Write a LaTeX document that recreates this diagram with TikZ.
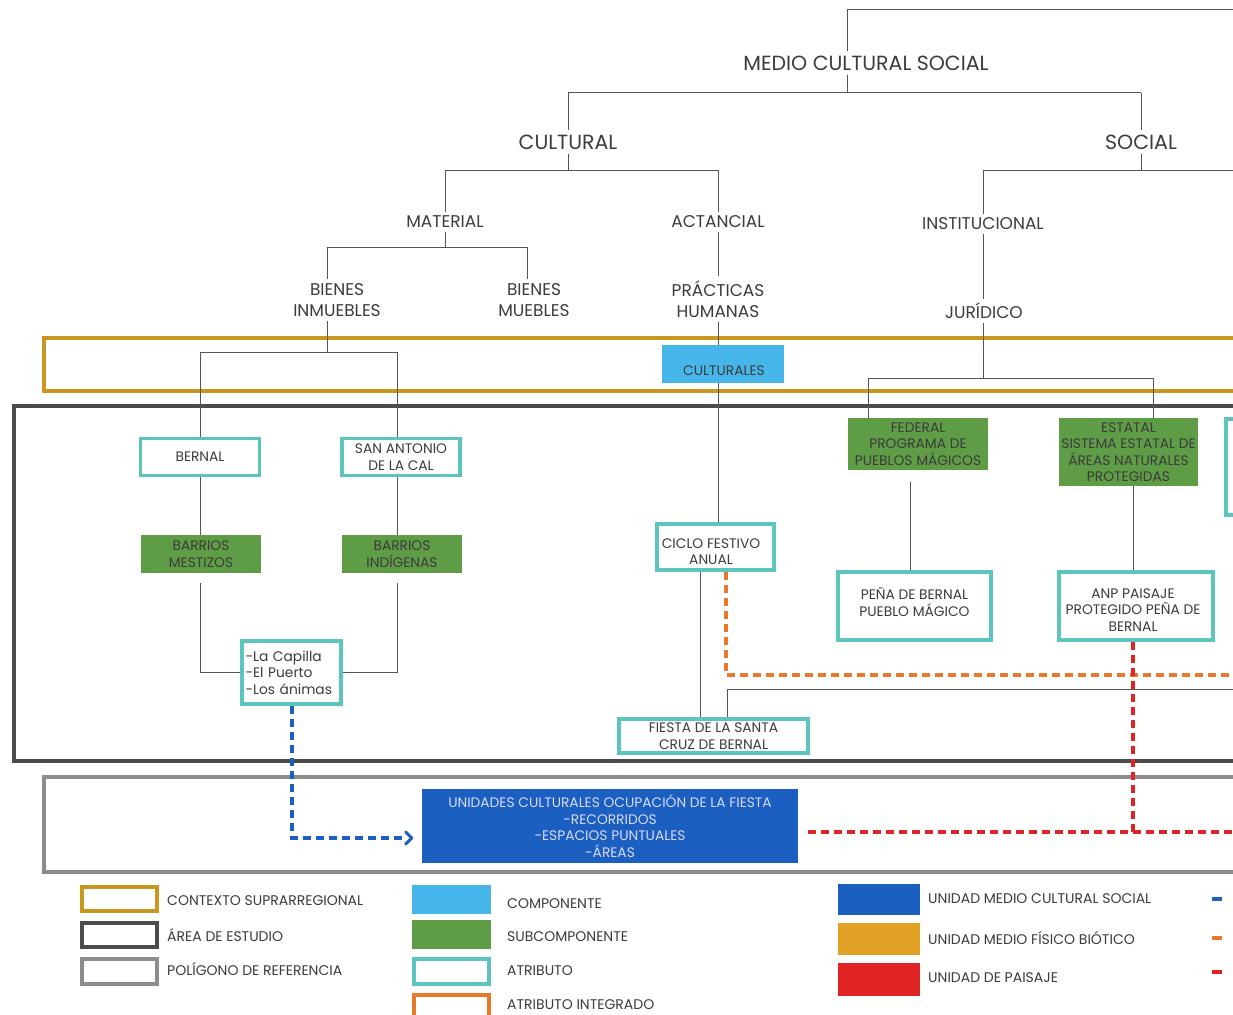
\documentclass[tikz,border=0pt]{standalone}
\usepackage{fontspec}
\setmainfont{Poppins}
\usetikzlibrary{arrows.meta}
\definecolor{txt}{HTML}{3C3C3C}
\definecolor{tealc}{HTML}{5CC6BE}
\definecolor{goldc}{HTML}{C9961F}
\definecolor{darkc}{HTML}{4B4B4B}
\definecolor{grayc}{HTML}{8C8C8C}
\definecolor{bluef}{HTML}{1B5FC1}
\definecolor{lblue}{HTML}{45B5EA}
\definecolor{greenc}{HTML}{5E9C45}
\definecolor{orangec}{HTML}{E8782A}
\definecolor{redc}{HTML}{E02424}
\definecolor{goldf}{HTML}{E2A226}
\definecolor{treec}{HTML}{555555}
\tikzset{
  big/.style={text=txt, font=\fontsize{20.5}{23}\selectfont, inner sep=0pt},
  mid/.style={text=txt, font=\fontsize{17}{21}\selectfont, inner sep=0pt, align=center},
  boxtxt/.style={font=\fontsize{13.8}{16.5}\selectfont, text=txt, align=center, inner sep=0pt},
  attrbox/.style={boxtxt, draw=tealc, line width=3.5pt, fill=white, rectangle},
  subbox/.style={boxtxt, fill=greenc, text=txt, rectangle},
  compbox/.style={boxtxt, fill=lblue, rectangle},
  tree/.style={draw=treec, line width=1pt},
  frame/.style={line width=4pt},
  odash/.style={draw=orangec, line width=3.5pt, dash pattern=on 8pt off 5pt},
  rdash/.style={draw=redc, line width=3.5pt, dash pattern=on 8pt off 5pt},
  bdash/.style={draw=bluef, line width=3.5pt, dash pattern=on 8pt off 5pt},
  legtxt/.style={text=txt, font=\fontsize{14}{16}\selectfont, inner sep=0pt, anchor=west},
}
\begin{document}
\begin{tikzpicture}[x=1pt,y=-1pt]
\useasboundingbox (0,0) rectangle (1233,1014);
\clip (0,0) rectangle (1233,1014);
\fill[white] (0,0) rectangle (1233,1014);

% frames
\draw[frame, goldc] (44,338) rectangle (1250,391);
\draw[frame, darkc, line width=4.5pt] (14,406) rectangle (1250,761);
\draw[frame, grayc] (44,777) rectangle (1250,872);

% tree labels
\node[big] (mcs) at (866,63) {MEDIO CULTURAL SOCIAL};
\node[big] (cult) at (568,142) {CULTURAL};
\node[big] (soc) at (1141,142) {SOCIAL};
\node[mid] (mat) at (445,222) {MATERIAL};
\node[mid] (act) at (718,222) {ACTANCIAL};
\node[mid] (ins) at (983,224) {INSTITUCIONAL};
\node[mid] (inm) at (337,300) {BIENES\\INMUEBLES};
\node[mid] (mue) at (534,300) {BIENES\\MUEBLES};
\node[mid] (prac) at (718,299) {PRÁCTICAS\\HUMANAS};
\node[mid] (jur) at (984,311) {JURÍDICO};

% junction coordinates
\coordinate (topC) at (847,10);
\coordinate (topR) at (1240,10);
\coordinate (j0) at (847,93);
\coordinate (j0l) at (568,93);
\coordinate (j0r) at (1141,93);
\coordinate (j1) at (568,170);
\coordinate (j1l) at (445,170);
\coordinate (j1r) at (718,170);
\coordinate (j2) at (1141,170);
\coordinate (j2l) at (983,170);
\coordinate (j2r) at (1240,170);
\coordinate (j3) at (445,247);
\coordinate (j3l) at (327,247);
\coordinate (j3r) at (527,247);
\coordinate (j4) at (327,352);
\coordinate (j4l) at (200,352);
\coordinate (j4r) at (397,352);
\coordinate (j5) at (983,378);
\coordinate (j5l) at (868,378);
\coordinate (j5r) at (1153,378);
\coordinate (xa) at (718,0);

% boxes
\node[attrbox, minimum width=119pt, minimum height=37pt] (ber) at (200,457) {BERNAL};
\node[attrbox, minimum width=118pt, minimum height=37pt] (san) at (401,457) {SAN ANTONIO\\DE LA CAL};
\node[subbox, minimum width=120pt, minimum height=38pt] (mes) at (201,554) {BARRIOS\\MESTIZOS};
\node[subbox, minimum width=120pt, minimum height=38pt] (ind) at (402,554) {BARRIOS\\INDÍGENAS};
\node[attrbox, minimum width=99pt, minimum height=63pt, align=left, text width=92pt] (cap) at (291.5,672.5) {-La Capilla\\-El Puerto\\-Los ánimas};
\node[compbox, minimum width=122pt, minimum height=38pt] (culb) at (723,364) {};
\node[boxtxt] (culbt) at (724,371) {CULTURALES};
\node[attrbox, minimum width=117pt, minimum height=46pt] (cic) at (715.5,547) {};
\node[boxtxt] (cict) at (711,551.5) {CICLO FESTIVO\\ANUAL};
\node[attrbox, minimum width=189pt, minimum height=34pt] (fie) at (713.5,736) {FIESTA DE LA SANTA\\CRUZ DE BERNAL};
\node[subbox, minimum width=140pt, minimum height=52pt] (fed) at (918,444) {FEDERAL\\PROGRAMA DE\\PUEBLOS MÁGICOS};
\node[subbox, minimum width=139pt, minimum height=68pt] (est) at (1128.5,452) {ESTATAL\\SISTEMA ESTATAL DE\\ÁREAS NATURALES\\PROTEGIDAS};
\node[attrbox, minimum width=153pt, minimum height=68pt] (pena) at (914.5,606) {};
\node[boxtxt] (penat) at (914.5,602) {PEÑA DE BERNAL\\PUEBLO MÁGICO};
\node[attrbox, minimum width=154pt, minimum height=68pt] (anp) at (1136,606) {};
\node[boxtxt] (anpt) at (1133,610) {ANP PAISAJE\\PROTEGIDO PEÑA DE\\BERNAL};
\node[draw=tealc, line width=3.5pt, rectangle, minimum width=60pt, minimum height=96pt, inner sep=0pt] (part) at (1256,467) {};
\node[boxtxt, fill=bluef, text=white!85!blue, minimum width=376pt, minimum height=74pt] (uni) at (610,826) {UNIDADES CULTURALES OCUPACIÓN DE LA FIESTA\\-RECORRIDOS\\-ESPACIOS PUNTUALES\\-ÁREAS};

% tree connectors
\draw[tree] ([yshift=4pt]mcs.north -| topC) -- (topC) -- (topR);
\draw[tree] ([yshift=-4pt]mcs.south -| j0) -- (j0);
\draw[tree] (j0l) -- (j0r);
\draw[tree] (j0l) -- ([yshift=4pt]cult.north -| j0l);
\draw[tree] (j0r) -- ([yshift=4pt]soc.north -| j0r);
\draw[tree] ([yshift=-4pt]cult.south) -- (j1);
\draw[tree] (j1l) -- (j1r);
\draw[tree] (j1l) -- ([yshift=4pt]mat.north -| j1l);
\draw[tree] (j1r) -- ([yshift=4pt]act.north -| j1r);
\draw[tree] ([yshift=-4pt]soc.south) -- (j2);
\draw[tree] (j2l) -- (j2r);
\draw[tree] (j2l) -- ([yshift=4pt]ins.north -| j2l);
\draw[tree] ([yshift=-4pt]mat.south) -- (j3);
\draw[tree] (j3l) -- (j3r);
\draw[tree] (j3l) -- ([yshift=4pt]inm.north -| j3l);
\draw[tree] (j3r) -- ([yshift=4pt]mue.north -| j3r);
\draw[tree] ([yshift=-4pt]act.south) -- ([yshift=4pt]prac.north);
\draw[tree] ([yshift=-4pt]ins.south -| j2l) -- ([yshift=4pt]jur.north -| j2l);
\draw[tree] ([yshift=-4pt]inm.south -| j4) -- (j4);
\draw[tree] (j4l) -- (j4r);
\draw[tree] (j4l) -- (ber.north -| j4l);
\draw[tree] (j4r) -- (san.north -| j4r);
\draw[tree] ([yshift=-4pt]prac.south) -- (culb.north -| xa);
\draw[tree] ([yshift=-4pt]jur.south -| j5) -- (j5);
\draw[tree] (j5l) -- (j5r);
\draw[tree] (j5l) -- (fed.north -| j5l);
\draw[tree] (j5r) -- (est.north -| j5r);
\draw[tree] (culb.south -| xa) -- (cic.north -| xa);
\draw[tree] (ber.south -| j4l) -- (mes.north -| j4l);
\draw[tree] (san.south -| j4r) -- (ind.north -| j4r);
\draw[tree] ([yshift=-10pt]mes.south -| j4l) -- (cap.west -| j4l) -- (cap.west);
\draw[tree] ([yshift=-10pt]ind.south -| j4r) -- (cap.east -| j4r) -- (cap.east);
\draw[tree] ([xshift=-15pt]cic.south) -- ([xshift=-15pt]cic.south |- fie.north);
\coordinate (g1) at (727,689);
\coordinate (g1r) at (1240,689);
\draw[tree] (fie.north -| g1) -- (g1) -- (g1r);
\coordinate (fx) at (910,0);
\draw[tree] ([yshift=-12pt]fed.south -| fx) -- (pena.north -| fx);
\coordinate (ex) at (1133,0);
\draw[tree] (est.south -| ex) -- (anp.north -| ex);

% dashed links
\coordinate (o1) at (726,675);
\coordinate (o1r) at (1240,675);
\draw[odash] (cic.south -| o1) -- (o1) -- (o1r);
\coordinate (r1) at (808,832);
\coordinate (r1r) at (1240,832);
\draw[rdash] (r1) -- (r1r);
\draw[rdash] (anp.south -| ex) -- (r1 -| ex);
\coordinate (b1) at (292,838);
\draw[bdash] (cap.south -| b1) -- (b1) -- ([xshift=-16pt]uni.west |- b1);
\draw[bluef, line width=3pt, line cap=round, line join=round] ([xshift=-16pt,yshift=-6pt]uni.west |- b1) -- ([xshift=-10pt]uni.west |- b1) -- ([xshift=-16pt,yshift=6pt]uni.west |- b1);

% legend column 1
\node[draw=goldc, line width=4pt, minimum width=75pt, minimum height=24pt, inner sep=0pt] (lg1) at (119.5,899) {};
\node[draw=darkc, line width=4pt, minimum width=75pt, minimum height=24pt, inner sep=0pt] (lg2) at (119.5,935) {};
\node[draw=grayc, line width=4pt, minimum width=75pt, minimum height=25pt, inner sep=0pt] (lg3) at (119.5,971.5) {};
\node[legtxt] (lt1) at (167,901) {CONTEXTO SUPRARREGIONAL};
\node[legtxt] (lt2) at (167,935) {ÁREA DE ESTUDIO};
\node[legtxt] (lt3) at (167,969) {POLÍGONO DE REFERENCIA};
% legend column 2
\node[fill=lblue, minimum width=79pt, minimum height=29pt, inner sep=0pt] (lg4) at (451.5,899.5) {};
\node[fill=greenc, minimum width=79pt, minimum height=29pt, inner sep=0pt] (lg5) at (451.5,934.5) {};
\node[draw=tealc, line width=4pt, minimum width=75pt, minimum height=25pt, inner sep=0pt] (lg6) at (451.5,971.5) {};
\node[draw=orangec, line width=4pt, minimum width=75pt, minimum height=26pt, inner sep=0pt] (lg7) at (451.5,1008) {};
\node[legtxt] (lt4) at (507,904) {COMPONENTE};
\node[legtxt] (lt5) at (507,937) {SUBCOMPONENTE};
\node[legtxt] (lt6) at (507,971) {ATRIBUTO};
\node[legtxt] (lt7) at (507,1005) {ATRIBUTO INTEGRADO};
% legend column 3
\node[fill=bluef, minimum width=82pt, minimum height=31pt, inner sep=0pt] (lg8) at (879,899.5) {};
\node[fill=goldf, minimum width=82pt, minimum height=32pt, inner sep=0pt] (lg9) at (879,939) {};
\node[fill=redc, minimum width=82pt, minimum height=33pt, inner sep=0pt] (lg10) at (879,979.5) {};
\node[legtxt] (lt8) at (928,899) {UNIDAD MEDIO CULTURAL SOCIAL};
\node[legtxt] (lt9) at (928,938) {UNIDAD MEDIO FÍSICO BIÓTICO};
\node[legtxt] (lt10) at (928,978) {UNIDAD DE PAISAJE};
\node[fill=bluef, minimum width=10pt, minimum height=4pt, inner sep=0pt] (ld1) at (1217,899) {};
\node[fill=orangec, minimum width=10pt, minimum height=4pt, inner sep=0pt] (ld2) at (1217,938) {};
\node[fill=redc, minimum width=10pt, minimum height=4pt, inner sep=0pt] (ld3) at (1217,972) {};
\end{tikzpicture}
\end{document}
